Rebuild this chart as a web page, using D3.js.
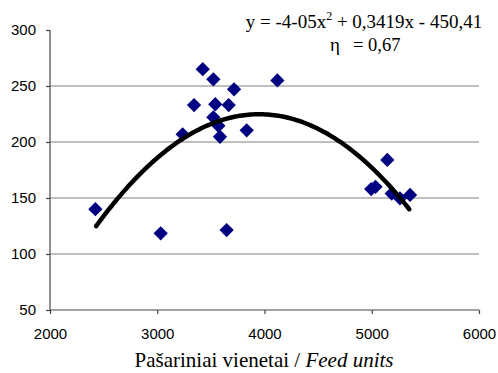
<!DOCTYPE html>
<html>
<head>
<meta charset="utf-8">
<script src="https://cdn.jsdelivr.net/npm/d3@7"></script>
<style>
  body { margin: 0; background: #fff; }
  svg { display: block; }
  text.serif, text.serif tspan { font-family: "Liberation Serif", "Times New Roman", serif; }
  text.sans { font-family: "Liberation Sans", Arial, sans-serif; }
</style>
</head>
<body>
<div id="chart"></div>
<script>
// data
const feedUnits = [2423, 3032, 3647, 3237, 3343, 3424, 3523, 3541, 3523, 3570, 3585, 3666, 3716, 3834, 4120, 4995, 5035, 5145, 5186, 5263, 5357];
const yieldVals = [140, 118.5, 121.4, 206.9, 233, 265, 256, 233.7, 222, 214.5, 204.7, 233, 247, 210.4, 255, 158, 160, 184, 154, 149.7, 152.7];
const xTicks = [2000, 3000, 4000, 5000, 6000];
const yTicks = [50, 100, 150, 200, 250, 300];
const gridVals = [100, 150, 200, 250];
// trend polynomial a*x^2 + b*x + c
const trendCoef = [-4.328e-5, 0.3419, -450.41];
const trendRange = [2430, 5350];

const W = 498, H = 373;
const margin = { top: 30, right: 19, bottom: 63, left: 50 };
const width = W - margin.left - margin.right;
const height = H - margin.top - margin.bottom;

const svg = d3.select('#chart').append('svg')
  .attr('width', W)
  .attr('height', H);

const chart = svg.append('g')
  .attr('transform', `translate(${margin.left}, ${margin.top})`);

const x = d3.scaleLinear().domain([2000, 6000]).range([0, width]);
const y = d3.scaleLinear().domain([50, 300]).range([height, 0]);

// gridlines
chart.selectAll('.grid')
  .data(gridVals)
  .enter().append('line')
  .attr('x1', 0).attr('x2', width)
  .attr('y1', d => y(d)).attr('y2', d => y(d))
  .attr('stroke', '#808080')
  .attr('stroke-width', 1.2);

// axes
const xAxis = chart.append('g')
  .attr('transform', `translate(0, ${height})`)
  .call(d3.axisBottom(x).tickValues(xTicks).tickSize(4).tickPadding(14).tickFormat(d3.format('d')));
const yAxis = chart.append('g')
  .call(d3.axisLeft(y).tickValues(yTicks).tickSize(4).tickPadding(10));

[xAxis, yAxis].forEach(a => {
  a.attr('font-size', 15);
  a.select('.domain').attr('stroke', '#444').attr('stroke-width', 1.2);
  a.selectAll('.tick line').attr('stroke', '#444').attr('stroke-width', 1.2);
  a.selectAll('.tick text')
    .attr('class', 'sans')
    .attr('fill', '#000');
});
yAxis.selectAll('.domain').attr('d', `M0,${height}V0`);
xAxis.select('.domain').attr('d', `M0,0H${width}`);

// points
const pts = feedUnits.map((d, i) => [d, yieldVals[i]]);
chart.selectAll('.pt')
  .data(pts)
  .enter().append('path')
  .attr('class', 'pt')
  .attr('transform', d => `translate(${x(d[0])}, ${y(d[1])})`)
  .attr('d', d3.symbol().type(d3.symbolDiamond2).size(130))
  .attr('fill', '#000080');

// trend curve
const trendX = d3.range(trendRange[0], trendRange[1] + 1, 20);
const trend = trendX.map(v => [v, trendCoef[0] * v * v + trendCoef[1] * v + trendCoef[2]]);
const line = d3.line()
  .x(d => x(d[0]))
  .y(d => y(d[1]));
chart.append('path')
  .datum(trend)
  .attr('d', line)
  .attr('fill', 'none')
  .attr('stroke', '#000')
  .attr('stroke-width', 4.5)
  .attr('stroke-linecap', 'round');

// equation text
const eq = svg.append('text')
  .attr('class', 'serif')
  .attr('x', 364).attr('y', 28)
  .attr('text-anchor', 'middle')
  .attr('font-size', 19);
eq.append('tspan').text('y = -4-05x');
eq.append('tspan').attr('font-size', 12).attr('dy', -8).text('2');
eq.append('tspan').attr('dy', 8).text(' + 0,3419x - 450,41');

svg.append('text')
  .attr('class', 'serif')
  .attr('x', 330).attr('y', 51)
  .attr('font-size', 19)
  .text('η');
svg.append('text')
  .attr('class', 'serif')
  .attr('x', 353).attr('y', 51)
  .attr('font-size', 18.5)
  .text('= 0,67');

// x title
const xt = svg.append('text')
  .attr('class', 'serif')
  .attr('x', 264).attr('y', 367)
  .attr('text-anchor', 'middle')
  .attr('font-size', 21);
xt.append('tspan').text('Pašariniai vienetai / ');
xt.append('tspan').attr('font-style', 'italic').text('Feed units');
</script>
</body>
</html>
